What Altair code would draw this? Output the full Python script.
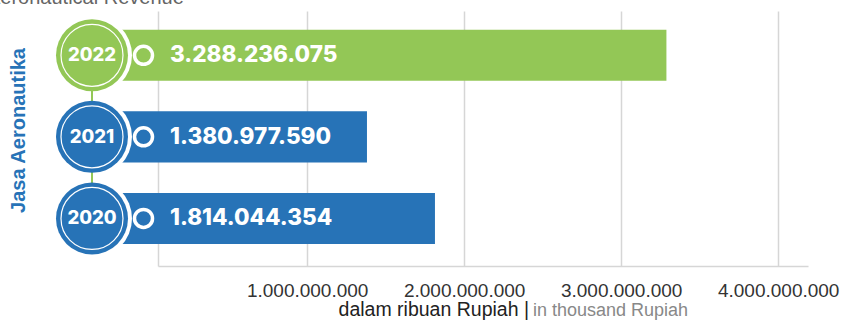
import altair as alt
import pandas as pd

# ---- data ----
years = ["2022", "2021", "2020"]
values = [3288236075, 1380977590, 1814044354]
bar_colors = ["#93C756", "#2773B7", "#2773B7"]
x_ticks = [1000000000, 2000000000, 3000000000, 4000000000]
title_text = "Aeronautical Revenue"
y_title = "Jasa Aeronautika"
x_title_id = "dalam ribuan Rupiah |"
x_title_en = "in thousand Rupiah"

GREEN = "#93C756"
BLUE = "#2773B7"
GRID = "#d6d6d6"

df = pd.DataFrame({"year": years, "value": values, "color": bar_colors})

W, H = 650, 255
CX = -66  # circle column (pixels left of plot)
BAR_START = -400000000  # bars start hidden behind the year circles

fmt = "replace(format(datum.value, ',.0f'), regexp(',', 'g'), '.')"

x_scale = alt.Scale(domain=[50000000, 4190000000], nice=False, zero=False)
y_scale = alt.Scale(domain=years, paddingInner=0.374, paddingOuter=0.25, align=0.46)

base = alt.Chart(df)
Y = alt.Y("year:N", scale=y_scale, sort=years)

bars = base.mark_bar().encode(
    x=alt.X("value:Q", scale=x_scale,
            axis=alt.Axis(values=x_ticks, labelExpr=fmt, grid=True, gridColor=GRID,
                          gridWidth=1.5, domain=True, domainColor=GRID, domainWidth=1.5,
                          ticks=False, labelFont="Liberation Sans", labelFontSize=19,
                          labelColor="#333333", labelPadding=15, labelFlush=False,
                          labelOverlap=False, title=None)),
    x2=alt.datum(BAR_START),
    y=alt.Y("year:N", scale=y_scale, sort=years,
            axis=alt.Axis(labels=False, ticks=False, grid=False, domain=True,
                          domainColor=GRID, domainWidth=1.5, title=y_title,
                          titleFont="Liberation Sans", titleFontWeight="bold",
                          titleFontSize=20, titleColor=BLUE, titleAngle=270,
                          titleX=-140, titleY=119, titleAlign="center",
                          titleBaseline="middle")),
    color=alt.Color("color:N", scale=None),
)

halo = base.mark_point(filled=True, shape="circle", size=80 * 80, opacity=1,
                       color="white").encode(x=alt.value(CX), y=Y)

connector = base.mark_line(color=GREEN, strokeWidth=2).encode(x=alt.value(CX), y=Y)

big = base.mark_point(filled=True, shape="circle", size=72 * 72, opacity=1).encode(
    x=alt.value(CX), y=Y, color=alt.Color("color:N", scale=None))

inner = base.mark_point(filled=False, shape="circle", size=62 * 62, opacity=1,
                        stroke="white", strokeWidth=1.2).encode(x=alt.value(CX), y=Y)

year_txt = base.mark_text(font="Inter", fontWeight=800, fontSize=18.5, color="white",
                          baseline="middle", align="center").encode(
    x=alt.value(CX), y=Y, text="year:N")

small = base.mark_point(filled=True, shape="circle", size=18 * 18, opacity=1,
                        stroke="white", strokeWidth=3.5).encode(
    x=alt.value(-14.5), y=Y, fill=alt.Fill("color:N", scale=None))

val_txt = base.transform_calculate(label=fmt).mark_text(
    font="Inter", fontWeight=800, fontSize=22.5, color="white", align="left",
    baseline="middle").encode(x=alt.value(12), y=Y, text="label:N")

title = alt.Chart(pd.DataFrame({"t": [title_text]})).mark_text(
    align="left", baseline="alphabetic", font="Liberation Sans", fontSize=20,
    color="#666666").encode(x=alt.value(-171), y=alt.value(-7), text="t:N")

xt1 = alt.Chart(pd.DataFrame({"t": [x_title_id]})).mark_text(
    align="right", baseline="alphabetic", font="Liberation Sans", fontSize=19.5,
    color="#222222").encode(x=alt.value(371), y=alt.value(305), text="t:N")

xt2 = alt.Chart(pd.DataFrame({"t": [x_title_en]})).mark_text(
    align="left", baseline="alphabetic", font="Liberation Sans", fontSize=18,
    color="#888888").encode(x=alt.value(375), y=alt.value(305), text="t:N")

chart = alt.layer(bars, halo, connector, big, inner, year_txt, small, val_txt,
                  title, xt1, xt2).properties(
    width=W, height=H,
    autosize=alt.AutoSizeParams(type="none"),
    padding={"left": 158, "top": 11, "right": 35, "bottom": 54},
).configure_view(stroke=None)

chart.save("out.html", embed_options={"renderer": "svg", "actions": False})
